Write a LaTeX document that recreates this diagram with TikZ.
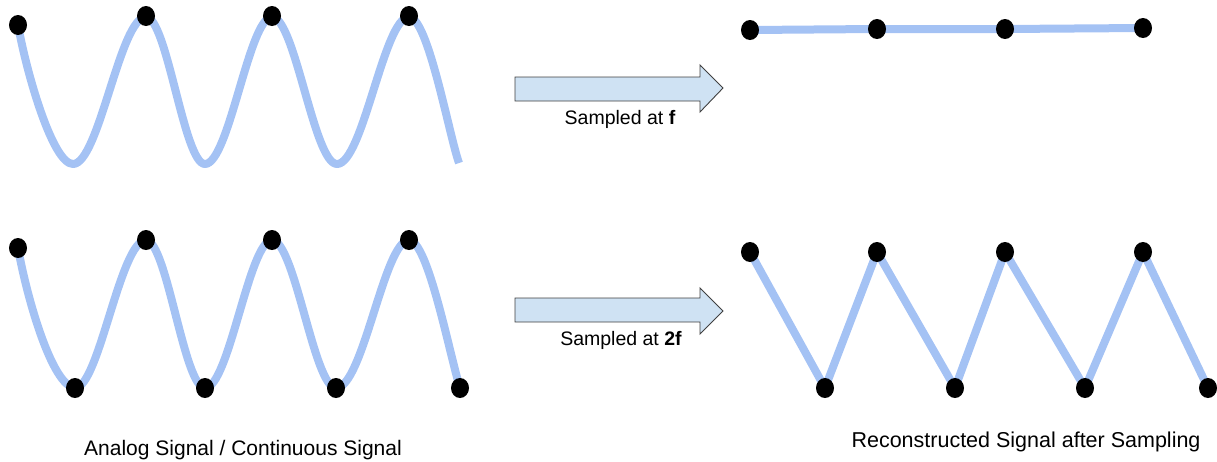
\documentclass[tikz,border=0pt]{standalone}
\usepackage{fontspec}
\setmainfont{Liberation Sans}
\usetikzlibrary{backgrounds,shapes.geometric}
\definecolor{wave}{HTML}{A4C2F4}
\definecolor{arrowfill}{HTML}{CFE2F3}
\definecolor{arrowline}{HTML}{404040}
\tikzset{
  dot/.style={ellipse, fill=black, inner sep=0pt, minimum width=18pt, minimum height=20pt},
  wavepath/.style={draw=wave, line width=8pt, line cap=butt, line join=round},
  fatarrow/.style={draw=arrowline, fill=arrowfill, line width=0.9pt, line join=miter},
  arrowlabel/.style={anchor=base, inner sep=0pt, font=\fontsize{19.5}{22}\selectfont},
  caption/.style={anchor=base, inner sep=0pt, font=\fontsize{21}{24}\selectfont}
}
\begin{document}
\begin{tikzpicture}[x=1pt,y=-1pt]
\useasboundingbox (0,0) rectangle (1217,461);
% ---- top-left analog signal
\node[dot] (a1) at (18,25) {};
\node[dot] (a2) at (146,16) {};
\node[dot] (a3) at (272,16) {};
\node[dot] (a4) at (409,16) {};
\coordinate (at1) at (73,164);
\coordinate (at2) at (205,164);
\coordinate (at3) at (337,164);
\coordinate (aend) at (459,163);
\begin{scope}[on background layer]
\draw[wavepath] (a1.center) .. controls (27,75) and (53,164) .. (at1)
  .. controls (99,164) and (120,17) .. (146,17)
  .. controls (167,17) and (184,164) .. (at2)
  .. controls (229,164) and (249,17) .. (272,17)
  .. controls (295,17) and (314,164) .. (at3)
  .. controls (363,164) and (384,17) .. (409,17)
  .. controls (428,17) and (449,135) .. (aend);
\end{scope}
% ---- bottom-left analog signal
\node[dot] (b1) at (18,248) {};
\node[dot] (b2) at (75,388) {};
\node[dot] (b3) at (146,240) {};
\node[dot] (b4) at (205,388) {};
\node[dot] (b5) at (272,240) {};
\node[dot] (b6) at (336,388) {};
\node[dot] (b7) at (409,240) {};
\node[dot] (b8) at (460,388) {};
\begin{scope}[on background layer]
\draw[wavepath] (b1.center) .. controls (27,298) and (52,386) .. (b2.center)
  .. controls (99,388) and (120,241) .. (b3.center)
  .. controls (167,241) and (184,388) .. (b4.center)
  .. controls (229,388) and (249,241) .. (b5.center)
  .. controls (295,241) and (314,388) .. (b6.center)
  .. controls (363,388) and (384,241) .. (b7.center)
  .. controls (428,241) and (449,352) .. (b8.center);
\end{scope}
% ---- arrows
\draw[fatarrow] (515,77) -- (700,77) -- (700,65) -- (723,88) -- (700,112) -- (700,101) -- (515,101) -- cycle;
\node[arrowlabel] (l1) at (620,124) {Sampled at \textbf{f}};
\draw[fatarrow] (515,298) -- (700,298) -- (700,288) -- (723,311) -- (700,334) -- (700,322) -- (515,322) -- cycle;
\node[arrowlabel] (l2) at (621,345) {Sampled at \textbf{2f}};
% ---- top-right reconstructed
\node[dot] (c1) at (750,30) {};
\node[dot] (c2) at (877,29) {};
\node[dot] (c3) at (1005,29) {};
\node[dot] (c4) at (1143,28) {};
\begin{scope}[on background layer]
\draw[wavepath] (c1.center) -- (c2.center) -- (c3.center) -- (c4.center);
\end{scope}
% ---- bottom-right reconstructed
\node[dot] (d1) at (750,252) {};
\node[dot] (d2) at (825,388) {};
\node[dot] (d3) at (877,252) {};
\node[dot] (d4) at (955,388) {};
\node[dot] (d5) at (1005,252) {};
\node[dot] (d6) at (1085,388) {};
\node[dot] (d7) at (1143,252) {};
\node[dot] (d8) at (1208,388) {};
\begin{scope}[on background layer]
\draw[wavepath] (d1.center) -- (d2.center) -- (d3.center) -- (d4.center) -- (d5.center) -- (d6.center) -- (d7.center) -- (d8.center);
\end{scope}
% ---- captions
\node[caption] (cap1) at (243,455) {Analog Signal / Continuous Signal};
\node[caption, font=\fontsize{21.5}{24}\selectfont] (cap2) at (1026,447) {Reconstructed Signal after Sampling};
\end{tikzpicture}
\end{document}
